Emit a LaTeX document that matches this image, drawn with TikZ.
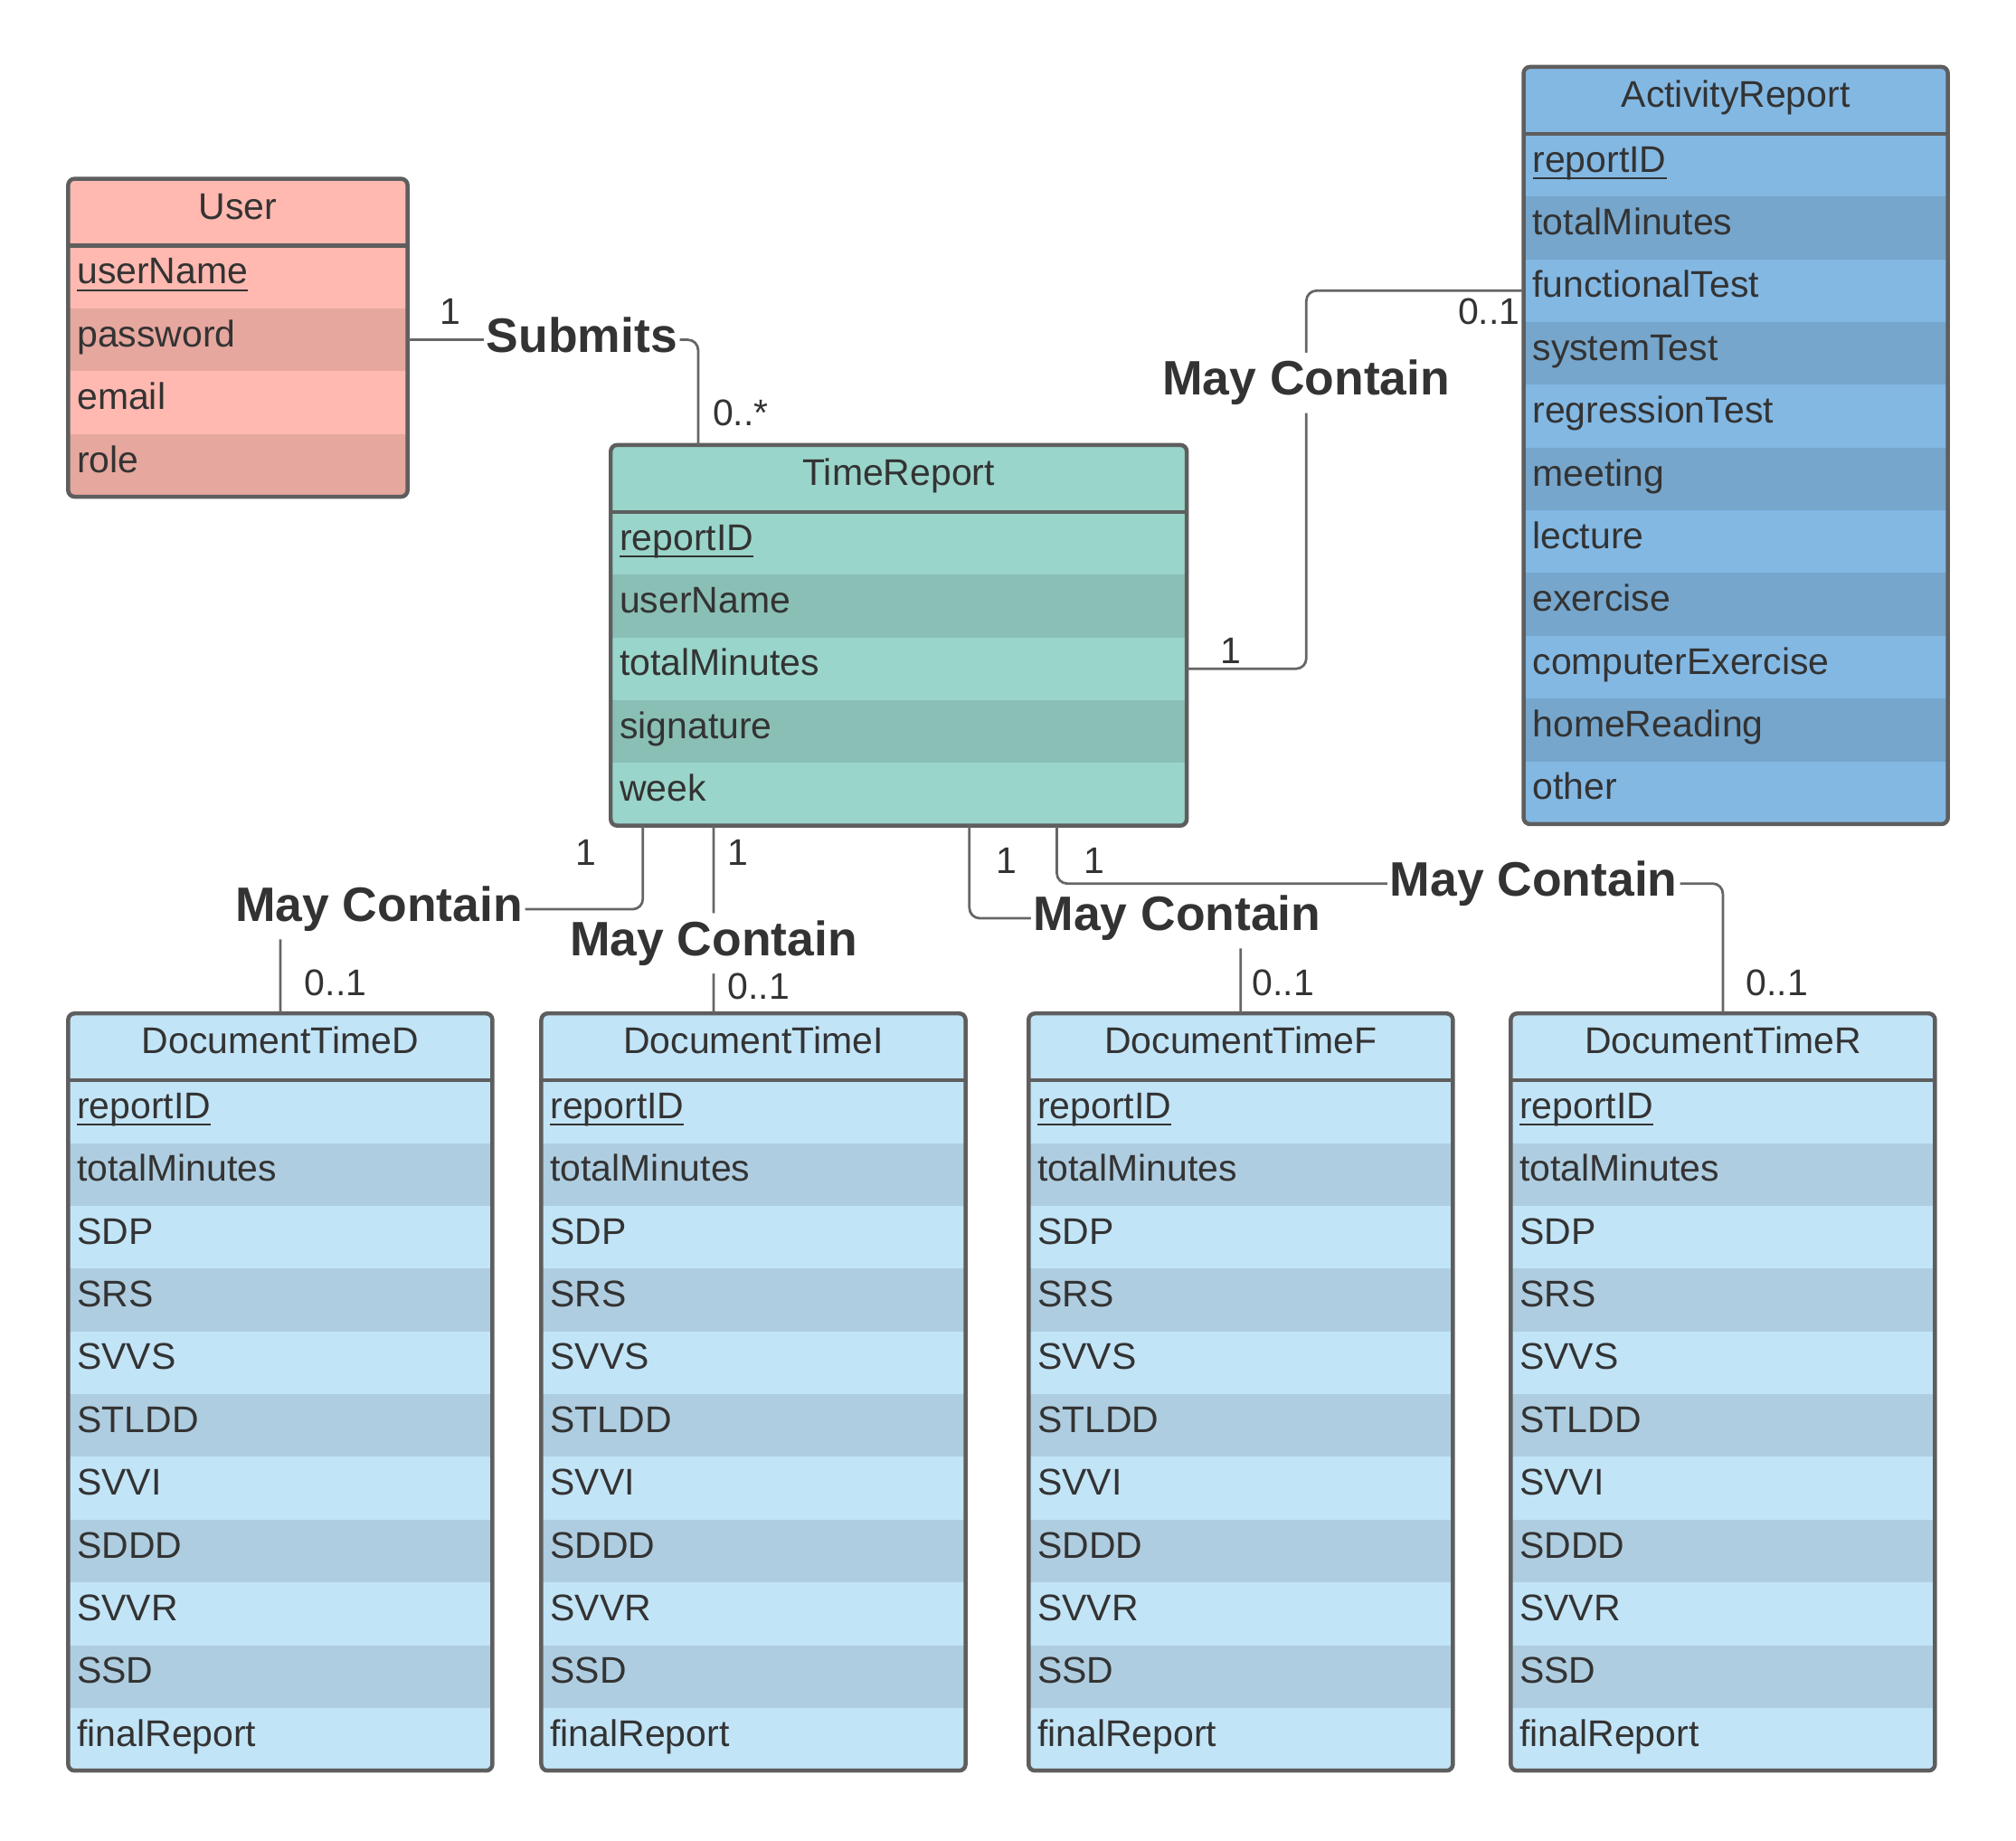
\documentclass[tikz,border=0pt]{standalone}
\usepackage{fontspec}
\setmainfont{Liberation Sans}
\usepackage{xcolor}
\definecolor{txt}{HTML}{333333}
\definecolor{boxline}{HTML}{5E5E5E}
\definecolor{wire}{HTML}{666666}
\definecolor{userA}{HTML}{FFB9B0}
\definecolor{userB}{HTML}{E6A79E}
\definecolor{trA}{HTML}{99D5CA}
\definecolor{trB}{HTML}{8ABFB5}
\definecolor{arA}{HTML}{83B8E3}
\definecolor{arB}{HTML}{76A6CC}
\definecolor{docA}{HTML}{C2E4F7}
\definecolor{docB}{HTML}{AFCDE0}

\begin{document}
\begin{tikzpicture}[x=1cm, y=-1cm,
    field/.style={rectangle, inner xsep=0.07cm, inner ysep=0pt, outer sep=0pt,
        minimum height=0.488cm, text height=0.2cm, text depth=0.092cm,
        align=left, text=txt, font=\fontsize{8.2}{9.8}\selectfont},
    head/.style={field, minimum height=0.52cm, align=center},
    frame/.style={draw=boxline, line width=0.9pt, rounded corners=0.05cm},
    assoc/.style={draw=wire, line width=0.55pt, rounded corners=0.08cm},
    rel/.style={fill=white, text=txt, inner xsep=0.02cm, inner ysep=0.06cm,
        text height=0.27cm, text depth=0.08cm, font=\fontsize{10.7}{12}\selectfont\bfseries},
    mult/.style={text=txt, inner sep=0pt, font=\fontsize{8.2}{9.8}\selectfont}]
    \useasboundingbox (0,0) rectangle (15.68,14.31);

    % User
    \begin{scope}
        \clip[rounded corners=0.05cm] (0.53,1.39) rectangle (3.17,3.862);
        \node[head, fill=userA, text width=2.50cm, anchor=north west] (user-0) at (0.53,1.39) {User};
        \foreach \a [count=\i] in {\underline{\smash{userName}}, password, email, role} {
            \ifodd\i \def\rowcol{userA}\else\def\rowcol{userB}\fi
            \node[field, fill=\rowcol, text width=2.50cm, anchor=north west] (user-\i) at (0.53,{1.91+0.488*(\i-1)}) {\a};
        }
    \end{scope}
    \draw[frame] (0.53,1.39) rectangle (3.17,3.862);
    \draw[frame, sharp corners] (user-0.south west) -- (user-0.south east);

    % TimeReport
    \begin{scope}
        \clip[rounded corners=0.05cm] (4.75,3.46) rectangle (9.23,6.42);
        \node[head, fill=trA, text width=4.34cm, anchor=north west] (tr-0) at (4.75,3.46) {TimeReport};
        \foreach \a [count=\i] in {\underline{\smash{reportID}}, userName, totalMinutes, signature, week} {
            \ifodd\i \def\rowcol{trA}\else\def\rowcol{trB}\fi
            \node[field, fill=\rowcol, text width=4.34cm, anchor=north west] (tr-\i) at (4.75,{3.98+0.488*(\i-1)}) {\a};
        }
    \end{scope}
    \draw[frame] (4.75,3.46) rectangle (9.23,6.42);
    \draw[frame, sharp corners] (tr-0.south west) -- (tr-0.south east);

    % ActivityReport
    \begin{scope}
        \clip[rounded corners=0.05cm] (11.85,0.52) rectangle (15.15,6.408);
        \node[head, fill=arA, text width=3.16cm, anchor=north west] (ar-0) at (11.85,0.52) {ActivityReport};
        \foreach \a [count=\i] in {\underline{\smash{reportID}}, totalMinutes, functionalTest, systemTest,
                regressionTest, meeting, lecture, exercise, computerExercise, homeReading, other} {
            \ifodd\i \def\rowcol{arA}\else\def\rowcol{arB}\fi
            \node[field, fill=\rowcol, text width=3.16cm, anchor=north west] (ar-\i) at (11.85,{1.04+0.488*(\i-1)}) {\a};
        }
    \end{scope}
    \draw[frame] (11.85,0.52) rectangle (15.15,6.408);
    \draw[frame, sharp corners] (ar-0.south west) -- (ar-0.south east);

    % Document times
    \foreach \n/\x/\t in {dd/0.53/DocumentTimeD, di/4.21/DocumentTimeI, df/8.00/DocumentTimeF, dr/11.75/DocumentTimeR} {
        \begin{scope}
            \clip[rounded corners=0.05cm] (\x,7.88) rectangle ++(3.30,5.888);
            \node[head, fill=docA, text width=3.16cm, anchor=north west] (\n-0) at (\x,7.88) {\t};
            \foreach \a [count=\i] in {\underline{\smash{reportID}}, totalMinutes, SDP, SRS, SVVS, STLDD,
                    SVVI, SDDD, SVVR, SSD, finalReport} {
                \ifodd\i \def\rowcol{docA}\else\def\rowcol{docB}\fi
                \node[field, fill=\rowcol, text width=3.16cm, anchor=north west] (\n-\i) at (\x,{8.40+0.488*(\i-1)}) {\a};
            }
        \end{scope}
        \draw[frame] (\x,7.88) rectangle ++(3.30,5.888);
        \draw[frame, sharp corners] (\n-0.south west) -- (\n-0.south east);
    }

    % Submits
    \draw[assoc] (user-2.east) -| node[rel, pos=0.3] (submits) {Submits} ([xshift=0.68cm]tr-0.north west);
    \node[mult] (m-user) at (3.50,2.42) {1};
    \node[mult] (m-tr) at (5.76,3.21) {0..*};

    % May Contain -> ActivityReport
    \draw[assoc] (tr-3.east) -- ++(0.93,0) |- node[rel, pos=0.378] (mc-ar) {May Contain} (ar-3.west);
    \node[mult] (m-tr-ar) at (9.57,5.06) {1};
    \node[mult] (m-ar) at (11.58,2.42) {0..1};

    % May Contain -> DocumentTimeD
    \draw[assoc] ([xshift=0.25cm]tr-5.south west) -- ++(0,0.65) -| node[rel, pos=0.364] (mc-dd) {May Contain} (dd-0.north);
    \node[mult] (m-tr-dd) at (4.56,6.63) {1};
    \node[mult] (m-dd) at (2.61,7.64) {0..1};

    % May Contain -> DocumentTimeI
    \draw[assoc] ([xshift=0.80cm]tr-5.south west) -- node[rel, pos=0.627] (mc-di) {May Contain} ([xshift=1.34cm]di-0.north west);
    \node[mult] (m-tr-di) at (5.74,6.63) {1};
    \node[mult] (m-di) at (5.90,7.67) {0..1};

    % May Contain -> DocumentTimeF
    \draw[assoc] ([xshift=2.79cm]tr-5.south west) -- ++(0,0.72) -| node[rel, pos=0.383] (mc-df) {May Contain} (df-0.north);
    \node[mult] (m-tr-df) at (7.83,6.69) {1};
    \node[mult] (m-df) at (9.98,7.64) {0..1};

    % May Contain -> DocumentTimeR
    \draw[assoc] ([xshift=3.47cm]tr-5.south west) -- ++(0,0.45) -| node[rel, pos=0.358] (mc-dr) {May Contain} (dr-0.north);
    \node[mult] (m-tr-dr) at (8.51,6.69) {1};
    \node[mult] (m-dr) at (13.82,7.64) {0..1};
\end{tikzpicture}
\end{document}
